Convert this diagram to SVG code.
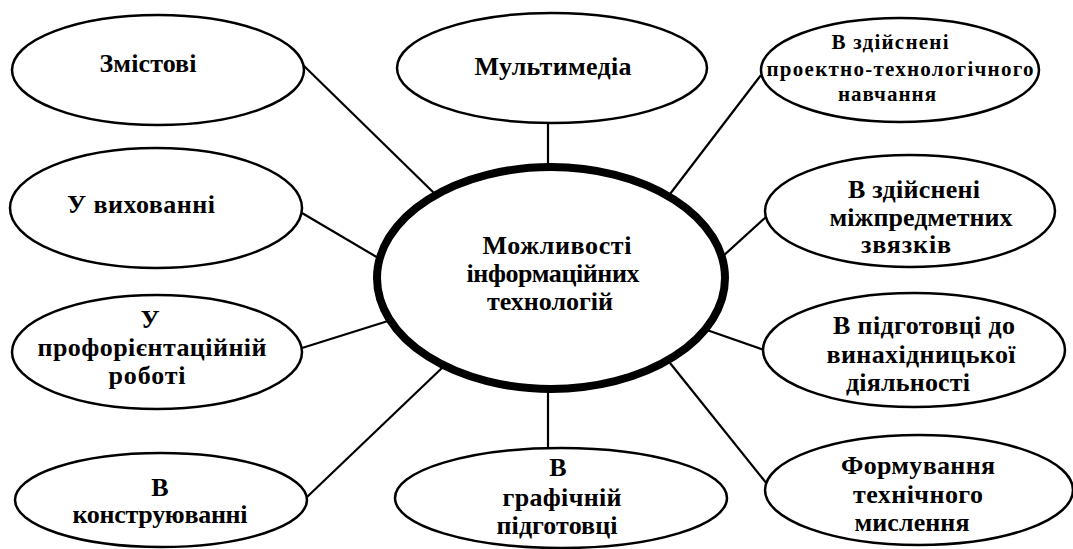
<svg xmlns="http://www.w3.org/2000/svg" width="1073" height="549" viewBox="0 0 1073 549">
<style>
.n{fill:#fff;stroke:#000;stroke-width:2.5}
.c{fill:#fff;stroke:#000;stroke-width:8}
.e line{stroke:#000;stroke-width:2.2}
text{font-family:"Liberation Serif","Times New Roman",serif;font-weight:bold;font-size:26px;fill:#000;text-anchor:middle}
.s{font-size:21px}
</style>
<rect width="1073" height="549" fill="#fff"/>
<g class="e" id="connectors">
<line x1="303" y1="65" x2="434" y2="193"/>
<line x1="302" y1="213" x2="380" y2="259"/>
<line x1="302" y1="348" x2="388" y2="321"/>
<line x1="307" y1="497" x2="443" y2="367"/>
<line x1="548" y1="123" x2="548" y2="167"/>
<line x1="548" y1="389" x2="548" y2="448"/>
<line x1="670" y1="194" x2="761" y2="75"/>
<line x1="722" y1="257" x2="766" y2="217"/>
<line x1="704" y1="329" x2="764" y2="350"/>
<line x1="670" y1="363" x2="767" y2="484"/>
</g>
<g id="n1"><ellipse class="n" cx="158" cy="70" rx="146" ry="55"/><text x="148" y="72" textLength="97" lengthAdjust="spacing">Змістові</text></g>
<g id="n2"><ellipse class="n" cx="156" cy="208" rx="146" ry="60"/><text x="141" y="213" textLength="148" lengthAdjust="spacing">У вихованні</text></g>
<g id="n3"><ellipse class="n" cx="157" cy="352" rx="145" ry="57"/><text x="150" y="328">У</text><text x="152" y="356" textLength="229" lengthAdjust="spacing">профорієнтаційній</text><text x="147" y="384" textLength="77" lengthAdjust="spacing">роботі</text></g>
<g id="n4"><ellipse class="n" cx="161" cy="500" rx="146" ry="47"/><text x="160" y="496">В</text><text x="160" y="523" textLength="175" lengthAdjust="spacing">конструюванні</text></g>
<g id="n5"><ellipse class="n" cx="552" cy="68" rx="155" ry="55"/><text x="553" y="75" textLength="157" lengthAdjust="spacing">Мультимедіа</text></g>
<g id="n6"><ellipse class="n" cx="561" cy="498" rx="166" ry="50"/><text x="558" y="476">В</text><text x="562" y="506" textLength="119" lengthAdjust="spacing">графічній</text><text x="557" y="534" textLength="121" lengthAdjust="spacing">підготовці</text></g>
<g id="n7"><ellipse class="n" cx="900" cy="70" rx="139" ry="52"/><text class="s" x="890" y="49" textLength="117" lengthAdjust="spacing">В здійснені</text><text class="s" x="900" y="76" textLength="267" lengthAdjust="spacing">проектно-технологічного</text><text class="s" x="887" y="101" textLength="98" lengthAdjust="spacing">навчання</text></g>
<g id="n8"><ellipse class="n" cx="910" cy="211" rx="145" ry="56"/><text x="914" y="198" textLength="132" lengthAdjust="spacing">В здійснені</text><text x="921" y="226" textLength="183" lengthAdjust="spacing">міжпредметних</text><text x="906" y="253" textLength="90" lengthAdjust="spacing">звязків</text></g>
<g id="n9"><ellipse class="n" cx="914" cy="350" rx="151" ry="57"/><text x="924" y="334" textLength="182" lengthAdjust="spacing">В підготовці до</text><text x="921" y="363" textLength="189" lengthAdjust="spacing">винахідницької</text><text x="908" y="391" textLength="124" lengthAdjust="spacing">діяльності</text></g>
<g id="n10"><ellipse class="n" cx="919" cy="490" rx="154" ry="55"/><text x="918" y="474" textLength="154" lengthAdjust="spacing">Формування</text><text x="918" y="503" textLength="130" lengthAdjust="spacing">технічного</text><text x="912" y="531" textLength="115" lengthAdjust="spacing">мислення</text></g>
<g id="center"><ellipse class="c" cx="551" cy="278" rx="174" ry="111"/><text x="557" y="254" textLength="149" lengthAdjust="spacing">Можливості</text><text x="553" y="282" textLength="173" lengthAdjust="spacing">інформаційних</text><text x="550" y="310" textLength="126" lengthAdjust="spacing">технологій</text></g>
</svg>
